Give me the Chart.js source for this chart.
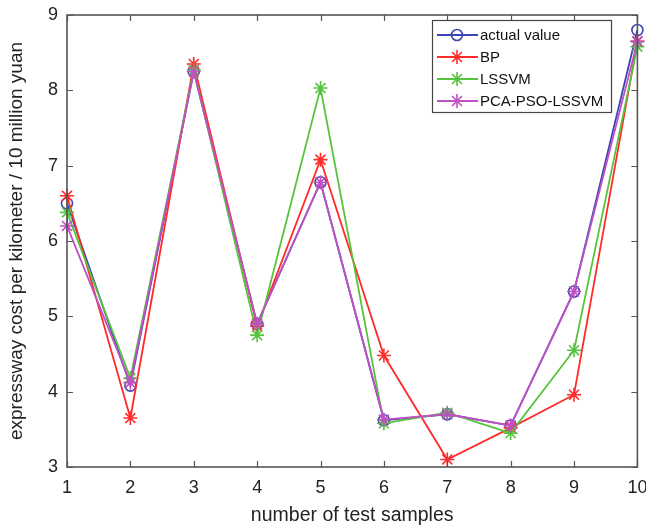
<!DOCTYPE html>
<html><head><meta charset="utf-8">
<script src="https://cdn.jsdelivr.net/npm/chart.js@4/dist/chart.umd.min.js"></script>
<style>html,body{margin:0;padding:0;background:#fff}#w{width:646px;height:527px}</style>
</head><body><div id="w"><canvas id="c"></canvas></div>
<script>
const categories = [1,2,3,4,5,6,7,8,9,10];
const actualValue = [6.5,4.08,8.25,4.9,6.78,3.62,3.7,3.55,5.33,8.8];
const bpValues = [6.6,3.65,8.35,4.87,7.08,4.48,3.1,3.52,3.96,8.65];
const lssvmValues = [6.38,4.18,8.27,4.75,8.03,3.58,3.72,3.45,4.55,8.58];
const pcaValues = [6.2,4.12,8.25,4.9,6.78,3.63,3.7,3.55,5.33,8.65];
const yTicks = [3,4,5,6,7,8,9];

const FONT = 'Liberation Sans, Arial, sans-serif';
function ds(label, data, color, style, r, order){
  return {label, data: data.map((v,i)=>({x:categories[i], y:v})), borderColor:color, backgroundColor:'rgba(0,0,0,0)',
    pointBorderColor:color, pointBackgroundColor:'rgba(0,0,0,0)', pointStyle:style, pointRadius:r, pointHoverRadius:r,
    borderWidth:1.8, pointBorderWidth:1.6, tension:0, clip:false, order};
}
const boxPlugin = {
  id:'box',
  afterDatasetsDraw(chart){
    const {ctx, chartArea:a, scales:{x,y}} = chart;
    ctx.save();
    ctx.strokeStyle='#555'; ctx.lineWidth=1.6;
    ctx.strokeRect(a.left, a.top, a.right-a.left, a.bottom-a.top);
    ctx.lineWidth=1.2;
    yTicks.forEach(v=>{const p=Math.round(y.getPixelForValue(v))+0.5;
      ctx.beginPath();ctx.moveTo(a.left,p);ctx.lineTo(a.left+6,p);ctx.moveTo(a.right,p);ctx.lineTo(a.right-6,p);ctx.stroke();});
    categories.forEach(v=>{const p=Math.round(x.getPixelForValue(v))+0.5;
      ctx.beginPath();ctx.moveTo(p,a.bottom);ctx.lineTo(p,a.bottom-6);ctx.moveTo(p,a.top);ctx.lineTo(p,a.top+6);ctx.stroke();});
    // legend box
    const lx=432, ly=20, lw=179, lh=92;
    ctx.fillStyle='#fff'; ctx.fillRect(lx,ly,lw,lh);
    ctx.strokeStyle='#444'; ctx.lineWidth=1.2; ctx.strokeRect(lx+0.5,ly+0.5,lw,lh);
    ctx.font='15px '+FONT; ctx.textBaseline='middle';
    const items=[...chart.data.datasets].sort((p,q)=>q.order-p.order);
    items.forEach((d,i)=>{
      const cy = ly+15+i*22;
      ctx.strokeStyle=d.borderColor; ctx.lineWidth=1.8;
      ctx.beginPath(); ctx.moveTo(lx+5,cy); ctx.lineTo(lx+46,cy); ctx.stroke();
      ctx.lineWidth=1.6; ctx.fillStyle='rgba(0,0,0,0)';
      Chart.helpers.drawPoint(ctx,{pointStyle:d.pointStyle, radius:d.pointRadius, rotation:0, borderWidth:1.6}, lx+25, cy);
      ctx.fillStyle='#111';
      ctx.fillText(d.label, lx+48, cy+1);
    });
    ctx.restore();
  }
};
new Chart(document.getElementById('c'), {
  type:'line',
  data:{datasets:[
    ds('actual value', actualValue, '#3d44b4', 'circle', 5.5, 4),
    ds('BP', bpValues, '#ff2b2b', 'star', 7, 3),
    ds('LSSVM', lssvmValues, '#55c43c', 'star', 7, 2),
    ds('PCA-PSO-LSSVM', pcaValues, '#c050c4', 'star', 7, 1)
  ]},
  options:{
    responsive:true, maintainAspectRatio:false, animation:false,
    layout:{padding:{top:15, right:6, left:0, bottom:0}},
    plugins:{legend:{display:false}, tooltip:{enabled:false}},
    scales:{
      x:{type:'linear', min:1, max:10,
        afterBuildTicks(s){s.ticks=categories.map(v=>({value:v}));},
        afterFit(s){s.height=60; s.paddingLeft=0; s.paddingRight=0;},
        grid:{display:false, drawTicks:false}, border:{display:false},
        ticks:{padding:10, color:'#222', font:{family:FONT, size:18}, maxRotation:0, autoSkip:false},
        title:{display:true, text:'number of test samples', color:'#222', font:{family:FONT, size:19.5}, padding:{top:0,bottom:0}}
      },
      y:{min:3, max:9,
        afterBuildTicks(s){s.ticks=yTicks.map(v=>({value:v}));},
        afterFit(s){s.width=67; s.paddingTop=0; s.paddingBottom=0;},
        grid:{display:false, drawTicks:false}, border:{display:false},
        ticks:{padding:9, color:'#222', font:{family:FONT, size:18}},
        title:{display:true, text:'expressway cost per kilometer / 10 million yuan', color:'#222', font:{family:FONT, size:19}, padding:{top:5,bottom:0}}
      }
    }
  },
  plugins:[boxPlugin]
});
</script></body></html>
